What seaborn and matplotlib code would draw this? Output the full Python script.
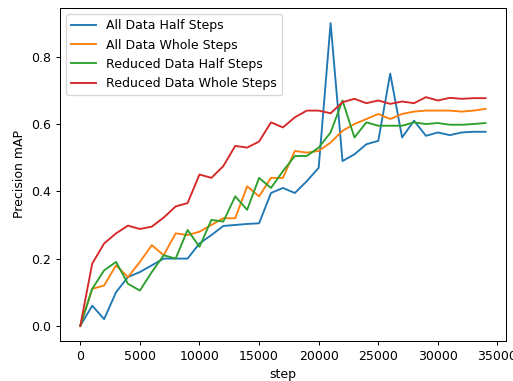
import matplotlib
matplotlib.use("Agg")
import matplotlib.pyplot as plt
import seaborn as sns
import pandas as pd

steps = list(range(0, 35000, 1000))

all_half = [0.0, 0.06, 0.02, 0.10, 0.145, 0.16, 0.18, 0.20, 0.20, 0.20, 0.245, 0.27, 0.297, 0.30, 0.303, 0.305,
            0.395, 0.41, 0.395, 0.43, 0.47, 0.90, 0.49, 0.51, 0.54, 0.55, 0.75, 0.56, 0.61, 0.565, 0.575, 0.567,
            0.575, 0.577, 0.577]
all_whole = [0.0, 0.11, 0.12, 0.18, 0.145, 0.19, 0.24, 0.21, 0.275, 0.27, 0.28, 0.30, 0.32, 0.32, 0.415, 0.385,
             0.44, 0.44, 0.52, 0.515, 0.52, 0.545, 0.58, 0.60, 0.615, 0.63, 0.615, 0.63, 0.637, 0.64, 0.64, 0.64,
             0.637, 0.64, 0.645]
red_half = [0.0, 0.11, 0.165, 0.19, 0.125, 0.105, 0.16, 0.21, 0.20, 0.285, 0.235, 0.315, 0.31, 0.385, 0.345, 0.44,
            0.41, 0.46, 0.505, 0.505, 0.53, 0.575, 0.67, 0.56, 0.605, 0.595, 0.595, 0.595, 0.605, 0.60, 0.603, 0.598,
            0.598, 0.60, 0.603]
red_whole = [0.0, 0.185, 0.245, 0.275, 0.298, 0.288, 0.295, 0.322, 0.355, 0.365, 0.45, 0.44, 0.475, 0.535, 0.53,
             0.548, 0.605, 0.59, 0.62, 0.64, 0.64, 0.632, 0.665, 0.675, 0.662, 0.67, 0.66, 0.667, 0.662, 0.68, 0.67,
             0.678, 0.675, 0.677, 0.677]

labels = ["All Data Half Steps", "All Data Whole Steps", "Reduced Data Half Steps", "Reduced Data Whole Steps"]
series = [all_half, all_whole, red_half, red_whole]

rows = []
for lab, vals in zip(labels, series):
    for s, v in zip(steps, vals):
        rows.append({"step": s, "Precision mAP": v, "run": lab})
df = pd.DataFrame(rows)

DPI = 90
fig, ax = plt.subplots(figsize=(513 / DPI, 381 / DPI), dpi=DPI)
sns.lineplot(data=df, x="step", y="Precision mAP", hue="run", hue_order=labels,
             palette=["#1f77b4", "#ff7f0e", "#2ca02c", "#d62728"], ax=ax)
ax.legend(title=None, loc="upper left")
ax.set_xlabel("step")
ax.set_ylabel("Precision mAP")
fig.subplots_adjust(left=0.117, right=0.986, top=0.979, bottom=0.105)
fig.savefig("out.png", dpi=DPI)
